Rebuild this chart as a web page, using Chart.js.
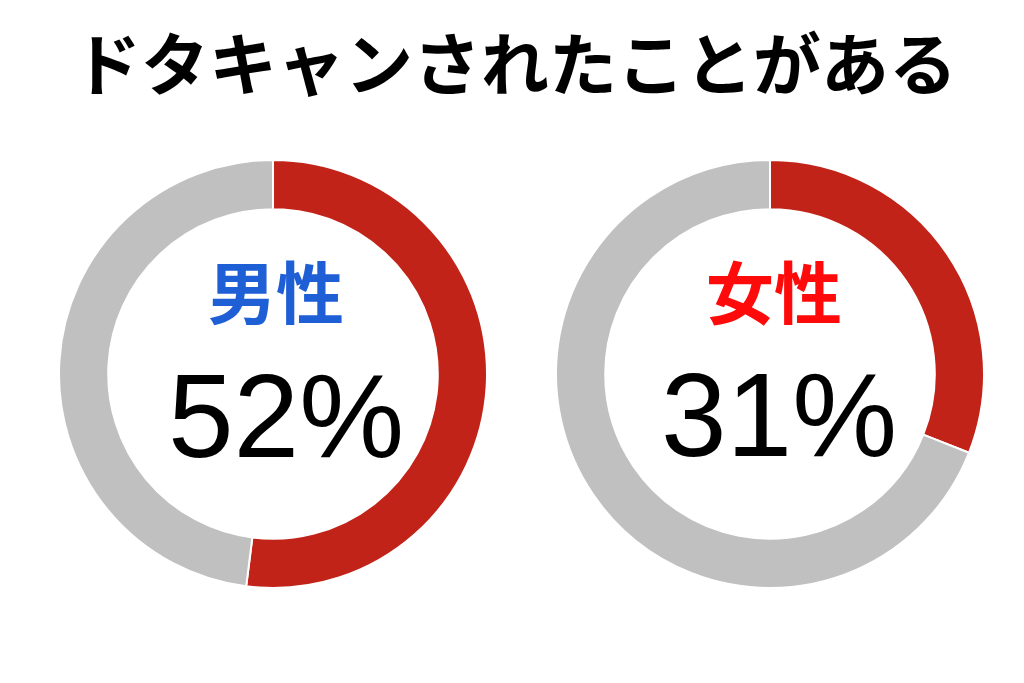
<!DOCTYPE html>
<html>
<head>
<meta charset="utf-8">
<script src="https://cdn.jsdelivr.net/npm/chart.js@4/dist/chart.umd.min.js"></script>
<style>
  html, body { margin: 0; padding: 0; background: #fff; }
  #stage { position: relative; width: 1024px; height: 683px; overflow: hidden; background: #fff; }
  .box { position: absolute; width: 430px; height: 430px; }
  .txt { position: absolute; text-align: center; white-space: nowrap; }
  #title { left: 0; width: 1030px; top: 27px; font-family: "Noto Sans CJK JP", sans-serif; font-weight: 700; font-size: 68px; line-height: 68px; color: #000; }
  .lab { font-family: "Noto Sans CJK JP", sans-serif; font-weight: 700; font-size: 68px; line-height: 68px; width: 300px; }
  .pct { font-family: "Liberation Sans", Arial, sans-serif; font-weight: 400; font-size: 118px; line-height: 118px; width: 400px; color: #000; }
</style>
</head>
<body>
<div id="stage">
  <div id="title" class="txt"></div>
  <div class="box" style="left:58px; top:159px;"><canvas id="c1"></canvas></div>
  <div class="box" style="left:555px; top:159px;"><canvas id="c2"></canvas></div>
  <div id="lab1" class="txt lab" style="left:126px; top:256px; color:#1f5fd6;"></div>
  <div id="pct1" class="txt pct" style="left:86px; top:357px;"></div>
  <div id="lab2" class="txt lab" style="left:624px; top:256px; color:#ff0a0a;"></div>
  <div id="pct2" class="txt pct" style="left:579px; top:356px;"></div>
</div>
<script>
const titleText = "ドタキャンされたことがある";
const groups = ["男性", "女性"];
const categories = ["ある", "ない"];
const maleValues = [52, 48];
const femaleValues = [31, 69];
const sliceColors = ["#c12318", "#c0c0c0"];

document.getElementById("title").textContent = titleText;
document.getElementById("lab1").textContent = groups[0];
document.getElementById("lab2").textContent = groups[1];
document.getElementById("pct1").textContent = maleValues[0] + "%";
document.getElementById("pct2").textContent = femaleValues[0] + "%";

function makeDonut(id, values) {
  new Chart(document.getElementById(id), {
    type: "doughnut",
    data: {
      labels: categories,
      datasets: [{
        data: values,
        backgroundColor: sliceColors,
        borderColor: "#ffffff",
        borderWidth: 2,
        hoverOffset: 0
      }]
    },
    options: {
      responsive: true,
      maintainAspectRatio: false,
      animation: false,
      cutout: "77%",
      layout: { padding: 0 },
      plugins: { legend: { display: false }, tooltip: { enabled: false }, title: { display: false } },
      events: []
    }
  });
}
makeDonut("c1", maleValues);
makeDonut("c2", femaleValues);
</script>
</body>
</html>
